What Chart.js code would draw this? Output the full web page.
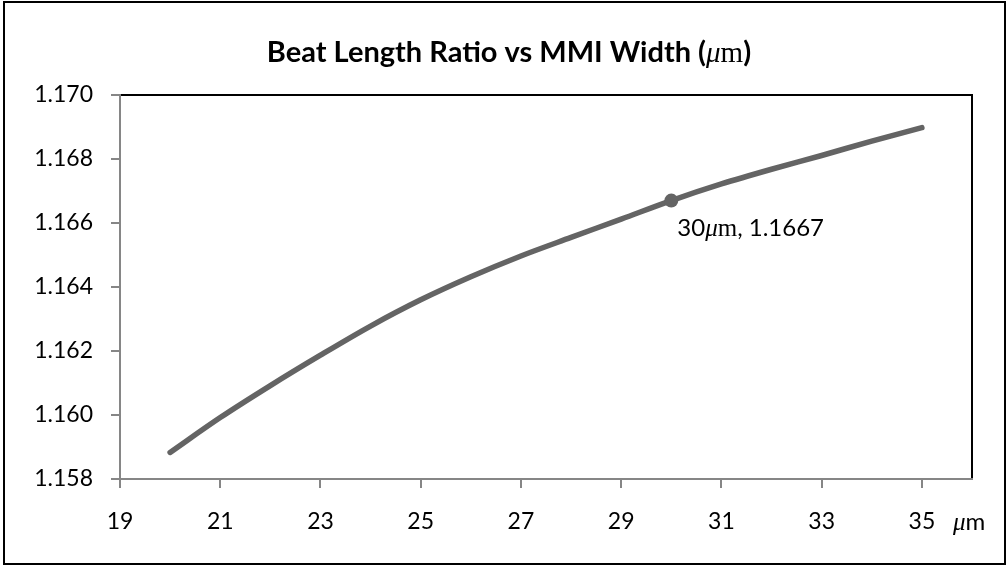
<!DOCTYPE html>
<html>
<head>
<meta charset="utf-8">
<script src="https://cdn.jsdelivr.net/npm/chart.js@4.4.0/dist/chart.umd.min.js"></script>
<style>
  html, body { margin: 0; padding: 0; background: #fff; }
  #wrap { width: 1008px; height: 566px; }
</style>
</head>
<body>
<div id="wrap"><canvas id="c" width="1008" height="566"></canvas></div>
<script>
// MMI width (µm) and the corresponding beat length ratio
const widths = [20, 21, 22, 23, 24, 25, 26, 27, 28, 29, 30, 31, 32, 33, 34, 35];
const ratios = [1.15883, 1.15992, 1.16092, 1.16187, 1.16278, 1.16360, 1.16432, 1.16497,
                1.16555, 1.16612, 1.16670, 1.16722, 1.16768, 1.16811, 1.16856, 1.16898];

// Highlighted design point
const markedWidth = 30;
const markedRatio = 1.1667;

// Axis ticks
const xTicks = [19, 21, 23, 25, 27, 29, 31, 33, 35];
const yTicks = [1.158, 1.160, 1.162, 1.164, 1.166, 1.168, 1.170];

const LINE = '#646464';
const AXIS = '#868686';
const SANS = 'Lato';
const SERIF = '"Liberation Serif"';

// Draw a sequence of differently styled text runs on one baseline
function drawRuns(ctx, runs, x, y, align) {
  ctx.save();
  ctx.textBaseline = 'alphabetic';
  ctx.textAlign = 'left';
  ctx.fillStyle = '#000';
  let total = 0;
  runs.forEach(r => { ctx.font = r.font; r.w = ctx.measureText(r.text).width; total += r.w; });
  let cx = align === 'center' ? x - total / 2 : x;
  runs.forEach(r => { ctx.font = r.font; ctx.fillText(r.text, cx, y); cx += r.w; });
  ctx.restore();
}

const framePlugin = {
  id: 'frame',
  beforeDraw(chart) {
    const { ctx, chartArea: a } = chart;
    ctx.save();
    ctx.fillStyle = '#fff';
    ctx.fillRect(0, 0, chart.width, chart.height);
    // outer chart border
    ctx.strokeStyle = '#000';
    ctx.lineWidth = 2;
    ctx.strokeRect(4, 2, 1001, 562);
    // plot area outline (left and bottom are covered by the axes)
    ctx.beginPath();
    ctx.moveTo(a.left, a.top);
    ctx.lineTo(a.right, a.top);
    ctx.lineTo(a.right, a.bottom);
    ctx.stroke();
    ctx.restore();

    // title with the unit set in math style
    drawRuns(ctx, [
      { text: 'Beat Length Ratio vs MMI Width (', font: `bold 29px ${SANS}` },
      { text: 'μ', font: `italic 29px ${SERIF}` },
      { text: 'm', font: `29px ${SERIF}` },
      { text: ')', font: `bold 29px ${SANS}` }
    ], 509, 62, 'center');
  },
  afterDatasetsDraw(chart) {
    const { ctx, scales } = chart;
    const px = scales.x.getPixelForValue(markedWidth);
    const py = scales.y.getPixelForValue(markedRatio);
    drawRuns(ctx, [
      { text: String(markedWidth), font: `24px ${SANS}` },
      { text: 'μ', font: `italic 25px ${SERIF}` },
      { text: 'm', font: `25px ${SERIF}` },
      { text: ', ' + markedRatio.toFixed(4), font: `24px ${SANS}` }
    ], px + 6, py + 35.5, 'left');

    // x axis unit after the last tick label
    const ux = scales.x.getPixelForValue(xTicks[xTicks.length - 1]) + 31;
    drawRuns(ctx, [
      { text: 'μ', font: `italic 25px ${SERIF}` },
      { text: 'm', font: `24px ${SANS}` }
    ], ux, 530, 'left');
  }
};

function build() {
  new Chart(document.getElementById('c'), {
    type: 'scatter',
    data: {
      datasets: [
        {
          data: widths.map((w, i) => ({ x: w, y: ratios[i] })),
          showLine: true,
          borderColor: LINE,
          borderWidth: 5.5,
          borderCapStyle: 'round',
          borderJoinStyle: 'round',
          cubicInterpolationMode: 'monotone',
          pointRadius: 0,
          pointHoverRadius: 0,
          fill: false,
          order: 2
        },
        {
          data: [{ x: markedWidth, y: markedRatio }],
          showLine: false,
          pointRadius: 7,
          pointHoverRadius: 7,
          backgroundColor: LINE,
          borderColor: LINE,
          borderWidth: 0,
          order: 1
        }
      ]
    },
    options: {
      responsive: false,
      animation: false,
      events: [],
      layout: { padding: { left: 0, right: 36, top: 95, bottom: 0 } },
      plugins: { legend: { display: false }, tooltip: { enabled: false }, title: { display: false } },
      scales: {
        x: {
          type: 'linear',
          min: 19,
          max: 36,
          afterBuildTicks: s => { s.ticks = xTicks.map(v => ({ value: v })); },
          afterFit: s => { s.height = 87; },
          ticks: {
            autoSkip: false, maxRotation: 0, padding: 20,
            color: '#000', font: { family: SANS, size: 23 },
            callback: v => String(v)
          },
          grid: { display: true, drawOnChartArea: false, drawTicks: true, tickLength: 9, color: AXIS, lineWidth: 2 },
          border: { display: true, color: AXIS, width: 2 }
        },
        y: {
          type: 'linear',
          min: 1.158,
          max: 1.170,
          afterBuildTicks: s => { s.ticks = yTicks.map(v => ({ value: v })); },
          afterFit: s => { s.width = 120; },
          ticks: {
            autoSkip: false, padding: 18,
            color: '#000', font: { family: SANS, size: 23 },
            callback: v => Number(v).toFixed(3)
          },
          grid: { display: true, drawOnChartArea: false, drawTicks: true, tickLength: 9, color: AXIS, lineWidth: 2 },
          border: { display: true, color: AXIS, width: 2 }
        }
      }
    },
    plugins: [framePlugin]
  });
}

Promise.all([
  document.fonts.load('22px Lato'),
  document.fonts.load('bold 26px Lato'),
  document.fonts.load('italic 24px "Liberation Serif"'),
  document.fonts.load('24px "Liberation Serif"')
]).then(build, build);
</script>
</body>
</html>
